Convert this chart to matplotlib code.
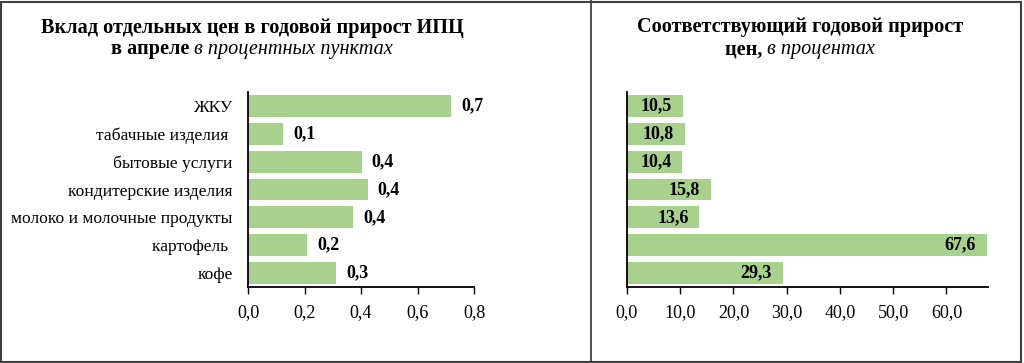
import matplotlib.pyplot as plt
from matplotlib.lines import Line2D
from matplotlib.patches import Rectangle

plt.rcParams['font.family'] = ['Liberation Serif', 'DejaVu Serif']

categories = [
    "ЖКУ",
    "табачные изделия ",
    "бытовые услуги",
    "кондитерские изделия",
    "молоко и молочные продукты",
    "картофель ",
    "кофе",
]
contrib = [0.72, 0.124, 0.403, 0.424, 0.372, 0.21, 0.312]
contrib_labels = ["0,7", "0,1", "0,4", "0,4", "0,4", "0,2", "0,3"]
growth = [10.5, 10.8, 10.4, 15.8, 13.6, 67.6, 29.3]

left_ticks = [0.0, 0.2, 0.4, 0.6, 0.8]
right_ticks = [0, 10, 20, 30, 40, 50, 60]

bar_color = "#a9d18e"
W, H = 1024, 363
title_fs = 14.6


def fmt(v, nd=1):
    return f"{v:.{nd}f}".replace(".", ",")


def style_axis(ax):
    for s in ["top", "right"]:
        ax.spines[s].set_visible(False)
    ax.spines["left"].set_linewidth(1.3)
    ax.spines["bottom"].set_linewidth(1.3)
    ax.tick_params(axis="y", length=0, pad=11, labelsize=12.6)
    ax.tick_params(axis="x", length=5, width=1, direction="out", pad=7, labelsize=13)
    ax.set_ylim(len(categories) - 0.5, -0.5)


fig = plt.figure(figsize=(W / 100, H / 100), dpi=100)

# левая панель
ax1 = fig.add_axes([248 / W, 1 - 287 / H, 226 / W, 195 / H])
y = list(range(len(categories)))
ax1.barh(y, contrib, height=0.78, color=bar_color)
style_axis(ax1)
ax1.set_yticks(y)
ax1.set_yticklabels(categories)
ax1.set_xlim(0, 0.8)
ax1.set_xticks(left_ticks)
ax1.set_xticklabels([fmt(t) for t in left_ticks])
for i, v in enumerate(contrib):
    ax1.annotate(contrib_labels[i], (v, i), xytext=(10, 0), textcoords="offset pixels",
                 ha="left", va="center", fontsize=13, fontweight="bold")

# правая панель
ax2 = fig.add_axes([627 / W, 1 - 287 / H, 361 / W, 195 / H])
ax2.barh(y, growth, height=0.78, color=bar_color)
style_axis(ax2)
ax2.set_yticks([])
ax2.set_xlim(0, 67.8)
ax2.set_xticks(right_ticks)
ax2.set_xticklabels([fmt(t) for t in right_ticks])
for i, v in enumerate(growth):
    ax2.annotate(fmt(v), (v, i), xytext=(-11, 0), textcoords="offset pixels",
                 ha="right", va="center", fontsize=13, fontweight="bold")

# заголовки
fig.text(252 / W, 1 - 33 / H, "Вклад отдельных цен в годовой прирост ИПЦ",
         ha="center", va="baseline", fontsize=title_fs, fontweight="bold")
fig.text(800 / W, 1 - 32 / H, "Соответствующий годовой прирост",
         ha="center", va="baseline", fontsize=title_fs, fontweight="bold")

fig.canvas.draw()
r = fig.canvas.get_renderer()


def two_part(x_center, yy, bold_part, ital_part):
    a = fig.text(0, yy, bold_part, ha="left", va="baseline", fontsize=title_fs, fontweight="bold")
    b = fig.text(0, yy, ital_part, ha="left", va="baseline", fontsize=title_fs, fontstyle="italic")
    wa = a.get_window_extent(r).width
    wb = b.get_window_extent(r).width
    x0 = x_center * W - (wa + wb) / 2
    a.set_x(x0 / W)
    b.set_x((x0 + wa) / W)


two_part(252 / W, 1 - 54 / H, "в апреле ", "в процентных пунктах")
two_part(800 / W, 1 - 54 / H, "цен, ", "в процентах")

# рамка и разделитель
fig.add_artist(Rectangle((1 / W, 1 / H), (W - 4) / W, (H - 3) / H, transform=fig.transFigure,
                         fill=False, edgecolor="#404040", linewidth=1.5))
fig.add_artist(Line2D([591 / W, 591 / W], [1 / H, 1], transform=fig.transFigure,
                      color="#404040", linewidth=1.3))

fig.savefig("out.png", dpi=100)
